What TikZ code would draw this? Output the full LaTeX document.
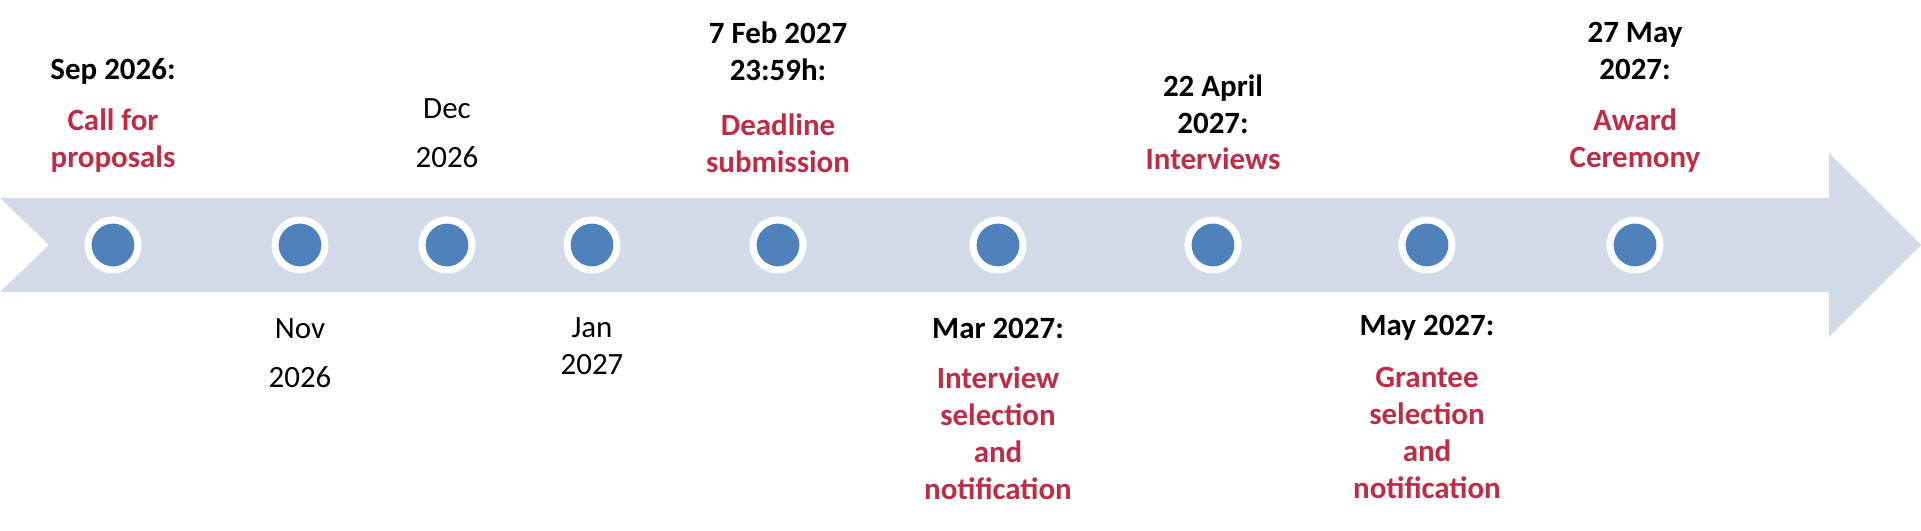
\documentclass[tikz,border=0pt]{standalone}
\usepackage{fontspec}
\setmainfont{Carlito}
\usetikzlibrary{positioning}
\definecolor{tlband}{RGB}{211, 218, 232}
\definecolor{tldot}{RGB}{79, 129, 189}
\definecolor{tlred}{RGB}{190, 45, 69}
\tikzstyle{dot} = [circle, fill=tldot, draw=white, line width=2pt, minimum size=0.5cm, inner sep=0pt]
\tikzstyle{date} = [font=\fontsize{8.8}{10.5}\selectfont\bfseries, align=center, inner sep=0pt]
\tikzstyle{plain} = [font=\fontsize{8.8}{14}\selectfont, align=center, inner sep=0pt]
\tikzstyle{event} = [font=\fontsize{8.8}{10.5}\selectfont\bfseries, text=tlred, align=center, inner sep=0pt]

\begin{document}
\begin{tikzpicture}[x=0.01cm, y=-0.01cm]
  \useasboundingbox (0,0) rectangle (1921,531);
  % band with arrow head
  \fill[tlband] (0,198) -- (1829,198) -- (1829,153) -- (1921,245) -- (1829,337)
    -- (1829,292) -- (0,292) -- (49,245) -- cycle;

  \node[dot] (sep) at (113,245) {};
  \node[dot] (nov) at (300,245) {};
  \node[dot] (dec) at (447,245) {};
  \node[dot] (jan) at (592,245) {};
  \node[dot] (feb) at (778,245) {};
  \node[dot] (mar) at (998,245) {};
  \node[dot] (apr) at (1213,245) {};
  \node[dot] (may) at (1427,245) {};
  \node[dot] (award) at (1635,245) {};

  % above the band
  \node[date] (sepdate) at (113,71) {Sep 2026:};
  \node[event] (septext) at (113,141) {Call for\\proposals};
  \node[plain] (dectext) at (447,133) {Dec\\2026};
  \node[date] (febdate) at (778,51) {7 Feb 2027\\23:59h:};
  \node[event] (febtext) at (778,143) {Deadline\\submission};
  \node[date] (aprdate) at (1213,104) {22 April\\2027:};
  \node[event] (aprtext) at (1213,159) {Interviews};
  \node[date] (awarddate) at (1635,51) {27 May\\2027:};
  \node[event] (awardtext) at (1635,141) {Award\\Ceremony};

  % below the band
  \node[plain] (novtext) at (300,353) {Nov\\2026};
  \node[plain, font=\fontsize{8.8}{10.5}\selectfont] (jantext) at (592,346) {Jan\\2027};
  \node[date] (mardate) at (998,328) {Mar 2027:};
  \node[event] (martext) at (998,433) {Interview\\selection\\and\\notification};
  \node[date] (maydate) at (1427,328) {May 2027:};
  \node[event] (maytext) at (1427,433) {Grantee\\selection\\and\\notification};
\end{tikzpicture}
\end{document}
